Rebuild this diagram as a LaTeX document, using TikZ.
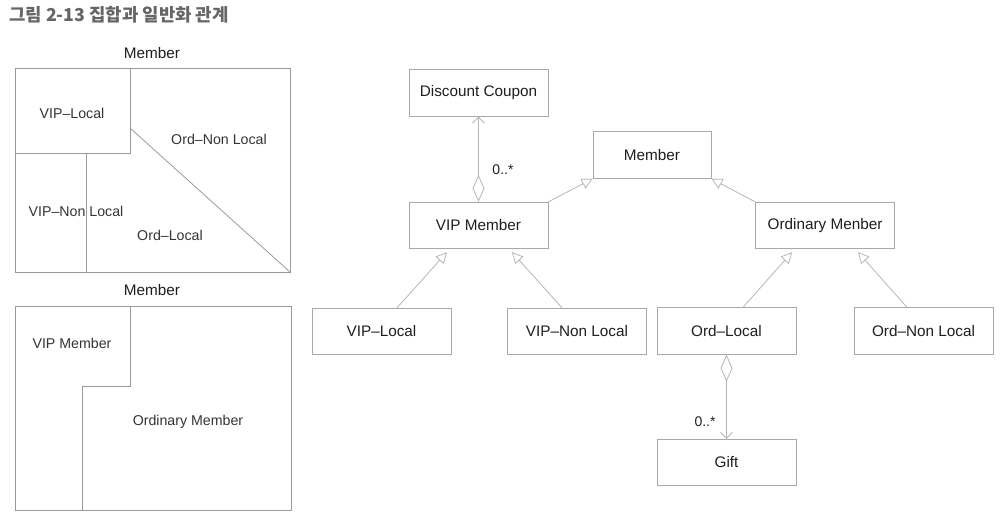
\documentclass[tikz,border=0pt]{standalone}
\usepackage{fontspec}
\setmainfont{Liberation Sans}
\newfontfamily\kr{Noto Sans CJK KR}
\usetikzlibrary{arrows.meta,calc}
\definecolor{boxc}{HTML}{A8A8A8}
\definecolor{linec}{HTML}{B5B5B5}
\definecolor{setc}{HTML}{9A9A9A}
\definecolor{txt}{HTML}{1E1E1E}
\definecolor{ltxt}{HTML}{333333}
\definecolor{titlec}{HTML}{666666}
\begin{document}
\begin{tikzpicture}[x=1pt,y=-1pt,
  cls/.style={draw=boxc, line width=0.8pt, minimum width=139pt, minimum height=46.5pt,
    inner sep=0pt, font=\fontsize{15.3}{17}\selectfont, text=txt},
  gen/.style={draw=linec, line width=0.8pt, -{Triangle[open,length=11pt,width=11pt]}},
  agg/.style={draw=linec, line width=0.8pt,
    {Diamond[open,length=27pt,width=12pt]}-{Straight Barb[length=6pt,width=12pt]}},
  mult/.style={font=\fontsize{14}{16}\selectfont, text=txt, inner sep=0pt},
  setline/.style={draw=setc, line width=0.8pt},
  settxt/.style={font=\fontsize{14.2}{16}\selectfont, text=ltxt, inner sep=0pt},
  setname/.style={font=\fontsize{15.3}{17}\selectfont, text=txt, inner sep=0pt}]
\useasboundingbox (0,0) rectangle (1007,526);

% title
\node[anchor=west, inner sep=0pt, text=titlec, font=\kr\bfseries\fontsize{17.8}{19}\selectfont]
  (title) at (9,15) {그림 2-13 집합과 일반화 관계};

% ---- left: set diagram 1
\node[setname] (setA) at (152,53) {Member};
\draw[setline] (15,68) rectangle (290,272);
\draw[setline] (15,153) -- (130,153) -- (130,68);
\draw[setline] (86.7,153) -- (86.7,272);
\draw[setline] (130,128) -- (290,272);
\node[settxt] (sVL) at (72,113) {VIP–Local};
\node[settxt] (sONL) at (219,139) {Ord–Non Local};
\node[settxt] (sVNL) at (76,211) {VIP–Non Local};
\node[settxt] (sOL) at (170,235) {Ord–Local};

% ---- left: set diagram 2
\node[setname] (setB) at (152,290) {Member};
\draw[setline] (15,306) rectangle (291,510);
\draw[setline] (130,306) -- (130,386) -- (82,386) -- (82,510);
\node[settxt] (sVM) at (72,343) {VIP Member};
\node[settxt] (sOM) at (188,422) {Ordinary Member};

% ---- right: class diagram
\node[cls] (dc) at (478.5,93) {Discount Coupon};
\node[cls, minimum width=118pt] (mem) at (652,155) {Member};
\node[cls] (vip) at (478.5,225.5) {VIP Member};
\node[cls] (ord) at (825,225.5) {Ordinary Menber};
\node[cls] (vl) at (381.5,331.5) {VIP–Local};
\node[cls] (vnl) at (577,331.5) {VIP–Non Local};
\node[cls] (ol) at (726.5,331) {Ord–Local};
\node[cls] (onl) at (923.5,331) {Ord–Non Local};
\node[cls] (gift) at (726.5,462.5) {Gift};

\draw[agg] (vip.north) -- (dc.south);
\node[mult] (m1) at (503,170) {0..*};
\draw[gen] (vip.north east) -- (mem.south west);
\draw[gen] (ord.north west) -- (mem.south east);
\draw[gen] ([xshift=15.5pt]vl.north) -- ([xshift=-31.5pt,yshift=-3pt]vip.south);
\draw[gen] ([xshift=-15pt]vnl.north) -- ([xshift=33.5pt,yshift=-3pt]vip.south);
\draw[gen] ([xshift=16.5pt]ol.north) -- ([xshift=-33pt,yshift=-3pt]ord.south);
\draw[gen] ([xshift=-16.5pt]onl.north) -- ([xshift=33pt,yshift=-3pt]ord.south);
\draw[agg] (ol.south) -- (gift.north);
\node[mult] (m2) at (705,422) {0..*};
\end{tikzpicture}
\end{document}
